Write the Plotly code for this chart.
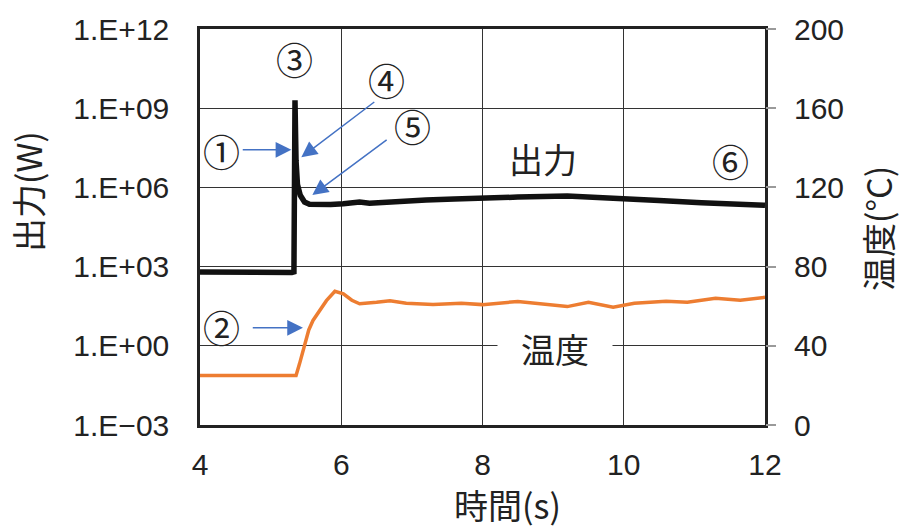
import plotly.graph_objects as go

# ---- data ----
time_power = [4.0, 4.5, 5.0, 5.30, 5.33, 5.345, 5.36, 5.38, 5.42, 5.48, 5.55, 5.70, 5.85,
              6.03, 6.15, 6.26, 6.40, 6.60, 6.83, 7.20, 7.60, 8.00, 8.50, 9.20, 9.60,
              10.0, 10.5, 11.1, 11.5, 12.0]
power_w = [6.3e2, 6.0e2, 6.3e2, 6.0e2, 6.3e2, 2.0e9, 1.0e7, 1.3e6, 5.0e5, 2.8e5, 2.3e5, 2.2e5, 2.25e5,
           2.4e5, 2.6e5, 2.8e5, 2.5e5, 2.75e5, 3.0e5, 3.3e5, 3.6e5, 4.0e5, 4.3e5, 4.7e5, 4.3e5,
           3.7e5, 3.2e5, 2.6e5, 2.4e5, 2.1e5]

time_temp = [4.0, 5.0, 5.36, 5.41, 5.48, 5.54, 5.60, 5.70, 5.79, 5.91, 6.03, 6.15, 6.26, 6.50,
             6.69, 6.92, 7.30, 7.70, 8.00, 8.50, 8.90, 9.20, 9.50, 9.85, 10.15, 10.60, 10.90,
             11.30, 11.65, 12.0]
temp_c = [25, 25, 25, 31, 39.5, 48, 52.8, 58, 62.8, 67.5, 66.2, 63, 61.2, 62,
          62.8, 61.5, 60.8, 61.5, 60.8, 62.4, 60.8, 59.8, 62, 59.5, 61.5, 62.5, 62,
          64, 63, 64.5]

left_tickvals = [1e-3, 1e0, 1e3, 1e6, 1e9, 1e12]
left_ticktext = ["1.E\u221203", "1.E+00", "1.E+03", "1.E+06", "1.E+09", "1.E+12"]
right_tickvals = [0, 40, 80, 120, 160, 200]
x_tickvals = [4, 6, 8, 10, 12]

BLUE = "#4472C4"
ORANGE = "#ED7D31"
TXT = "#222222"
LATIN = "Liberation Sans, Arial, Noto Sans CJK JP, sans-serif"
CJK = "Noto Sans CJK JP, sans-serif"

fig = go.Figure()
fig.add_trace(go.Scatter(x=time_power, y=power_w, mode="lines",
                         line=dict(color="#111111", width=5.5), yaxis="y", showlegend=False))
fig.add_trace(go.Scatter(x=time_temp, y=temp_c, mode="lines",
                         line=dict(color=ORANGE, width=3.5), yaxis="y2", showlegend=False))

fig.update_layout(
    width=901, height=529, autosize=False,
    margin=dict(l=200, r=136, t=27, b=104),
    paper_bgcolor="white", plot_bgcolor="white",
    font=dict(family=LATIN, size=30, color=TXT),
    xaxis=dict(range=[4, 12], tickvals=x_tickvals, showgrid=True, gridcolor="#333333",
               gridwidth=1.3, zeroline=False, showline=True, mirror=True, linecolor="#222222",
               linewidth=2.5, ticks="", ticklabelstandoff=11,
               tickfont=dict(size=30, family=LATIN, color=TXT)),
    yaxis=dict(type="log", range=[-3, 12], tickvals=left_tickvals, ticktext=left_ticktext,
               showgrid=True, gridcolor="#333333", gridwidth=1.3, zeroline=False,
               showline=True, mirror=True, linecolor="#222222", linewidth=2.5, ticks="",
               ticklabelstandoff=22, tickfont=dict(size=30, family=LATIN, color=TXT)),
    yaxis2=dict(range=[0, 200], tickvals=right_tickvals, overlaying="y", side="right",
                showgrid=False, zeroline=False, showline=False, ticks="outside", ticklen=10,
                tickcolor="#9a9a9a", tickwidth=1.5, ticklabelstandoff=12,
                tickfont=dict(size=30, family=LATIN, color=TXT)),
)

C = dict(xref="paper", yref="paper", showarrow=False, xanchor="center", yanchor="middle")
ann = []
# axis titles
ann.append(dict(text="出力(W)", x=-0.305, y=0.590, textangle=-90,
                font=dict(family=CJK, size=34, color=TXT), **C))
ann.append(dict(text="温度(°C)", x=1.2, y=0.495, textangle=-90,
                font=dict(family=CJK, size=34, color=TXT), **C))
ann.append(dict(text="時間(s)", x=0.5434, y=-0.201,
                font=dict(family=CJK, size=34, color=TXT), **C))
# circled labels
circ = [("③", 0.1676, 0.9254), ("④", 0.3301, 0.8711), ("⑤", 0.3768, 0.7538),
        ("①", 0.0387, 0.6910), ("②", 0.0387, 0.2470), ("⑥", 0.9388, 0.6658)]
for t, x, y in circ:
    ann.append(dict(text=t, x=x, y=y, font=dict(family=CJK, size=37, color=TXT), **C))
ann.append(dict(text="出力", x=0.6073, y=0.6734, font=dict(family=CJK, size=34, color=TXT), **C))
ann.append(dict(text="温度", x=0.6285, y=0.1935, font=dict(family=CJK, size=34, color=TXT),
                bgcolor="white", width=110, borderpad=2, **C))
# arrows (in time / temperature-axis coordinates)
arrows = [((4.584, 139.0), (5.294, 139.0)),
          ((4.726, 49.1), (5.458, 49.1)),
          ((6.489, 163.7), (5.435, 135.2)),
          ((6.664, 144.6), (5.591, 116.1))]
for (tx, ty), (hx, hy) in arrows:
    ann.append(dict(x=hx, y=hy, ax=tx, ay=ty, xref="x", yref="y2", axref="x", ayref="y2",
                    text="", showarrow=True, arrowhead=2, arrowsize=2.1, arrowwidth=1.5,
                    arrowcolor=BLUE, standoff=0))
fig.update_layout(annotations=ann)

fig.write_html("out.html")
